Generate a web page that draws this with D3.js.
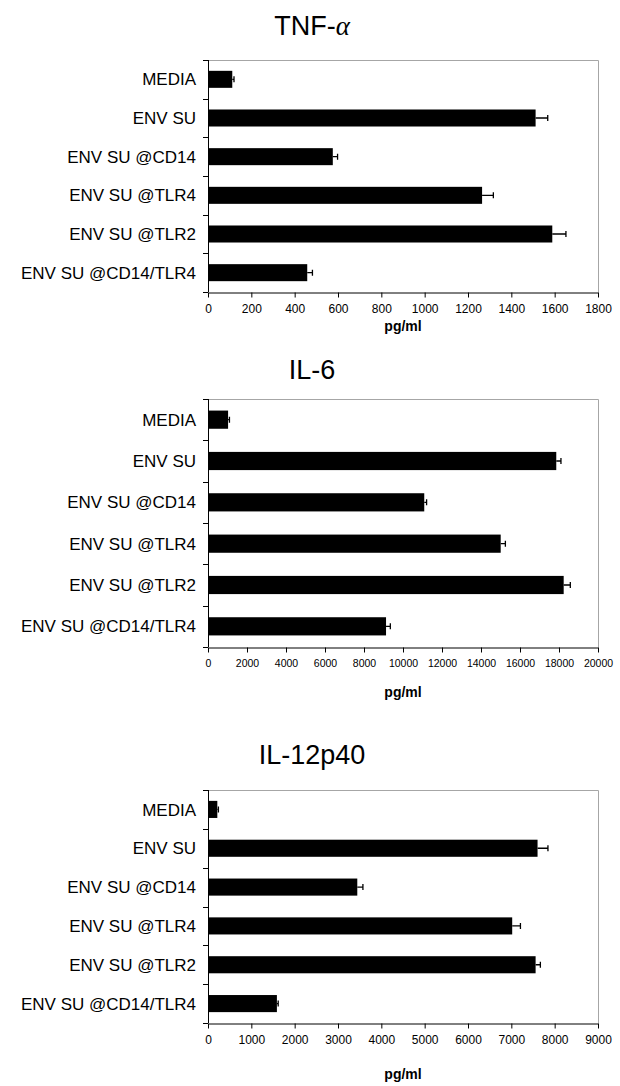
<!DOCTYPE html>
<html lang="en">
<head>
<meta charset="UTF-8">
<title>TNF-a / IL-6 / IL-12p40</title>
<script src="https://cdn.jsdelivr.net/npm/d3@7/dist/d3.min.js"></script>
<style>
  body { margin: 0; background: #fff; }
  svg text { font-family: "Liberation Sans", Arial, sans-serif; fill: #000; }
  .frame { fill: none; stroke: #a6a6a6; stroke-width: 1; }
  .bar { fill: #000; }
  .err { stroke: #000; stroke-width: 1.3; fill: none; }
  .axis path, .axis line { stroke: #000; stroke-width: 1; }
</style>
</head>
<body>
<svg></svg>
<script>
// categories (top to bottom)
var categories = ['MEDIA', 'ENV SU', 'ENV SU @CD14', 'ENV SU @TLR4', 'ENV SU @TLR2', 'ENV SU @CD14/TLR4']

// TNF-alpha
var tnfValues = [112, 1512, 576, 1265, 1589, 458]
var tnfErrors = [8, 56, 22, 52, 63, 24]
var tnfTicks = [0, 200, 400, 600, 800, 1000, 1200, 1400, 1600, 1800]

// IL-6
var il6Values = [1030, 17860, 11090, 15010, 18240, 9130]
var il6Errors = [70, 240, 120, 240, 340, 220]
var il6Ticks = [0, 2000, 4000, 6000, 8000, 10000, 12000, 14000, 16000, 18000, 20000]

// IL-12p40
var il12Values = [215, 7605, 3445, 7020, 7560, 1590]
var il12Errors = [25, 240, 130, 190, 110, 30]
var il12Ticks = [0, 1000, 2000, 3000, 4000, 5000, 6000, 7000, 8000, 9000]

var xLabel = 'pg/ml'

var svg = d3.select('svg').attr('width', 620).attr('height', 1086)

// plot box left/right is shared by all three panels
var left = 208, right = 598

var panels = [
    {title: 'TNF-', greek: 'α', values: tnfValues, errors: tnfErrors, ticks: tnfTicks,
     top: 60, bottom: 292, titleY: 35, tickSize: 12, labelY: 331},
    {title: 'IL-6', values: il6Values, errors: il6Errors, ticks: il6Ticks,
     top: 399, bottom: 647, titleY: 379, tickSize: 10.5, labelY: 697},
    {title: 'IL-12p40', values: il12Values, errors: il12Errors, ticks: il12Ticks,
     top: 790, bottom: 1023, titleY: 764, tickSize: 12, labelY: 1079}
]

panels.forEach(function (p) {
    var g = svg.append('g')

    var x = d3.scaleLinear()
        .domain([0, p.ticks[p.ticks.length - 1]])
        .range([left, right])
    var y = d3.scaleBand()
        .domain(categories)
        .range([p.top, p.bottom])
        .paddingInner(0.56)
        .paddingOuter(0.28)

    // title
    var t = g.append('text')
        .attr('x', 312)
        .attr('y', p.titleY)
        .attr('text-anchor', 'middle')
        .style('font-size', '27px')
        .text(p.title)
    if (p.greek) {
        t.append('tspan')
            .style('font-family', '"Liberation Serif", serif')
            .style('font-style', 'italic')
            .text(p.greek)
    }

    // gray frame (top + right)
    g.append('path')
        .attr('class', 'frame')
        .attr('d', 'M' + left + ',' + (p.top + 0.5) + 'H' + (right + 0.5) + 'V' + p.bottom)

    // bars
    g.selectAll('.bar')
        .data(p.values)
        .enter()
        .append('rect')
        .attr('class', 'bar')
        .attr('x', x(0))
        .attr('y', (d, i) => y(categories[i]))
        .attr('width', d => x(d) - x(0))
        .attr('height', y.bandwidth())

    // error bars (positive side only)
    var cap = 3
    g.selectAll('.err')
        .data(p.values)
        .enter()
        .append('path')
        .attr('class', 'err')
        .attr('d', function (d, i) {
            var cy = y(categories[i]) + y.bandwidth() / 2
            var x1 = x(d), x2 = x(d + p.errors[i])
            return 'M' + x1 + ',' + cy + 'H' + x2 + 'M' + x2 + ',' + (cy - cap) + 'V' + (cy + cap)
        })

    // left axis: ticks at band boundaries
    var bounds = d3.range(categories.length + 1).map(i => p.top + i * (p.bottom - p.top) / categories.length)
    var ga = g.append('g').attr('class', 'axis')
    ga.append('line')
        .attr('x1', left + 0.5).attr('x2', left + 0.5)
        .attr('y1', p.top).attr('y2', p.bottom)
    ga.selectAll('.ytick')
        .data(bounds)
        .enter()
        .append('line')
        .attr('x1', left - 5).attr('x2', left)
        .attr('y1', d => Math.round(d) + 0.5).attr('y2', d => Math.round(d) + 0.5)

    // category labels
    g.selectAll('.cat')
        .data(categories)
        .enter()
        .append('text')
        .attr('x', 196)
        .attr('y', d => y(d) + y.bandwidth() / 2)
        .attr('dy', '0.36em')
        .attr('text-anchor', 'end')
        .style('font-size', '17px')
        .text(d => d)

    // bottom axis
    var xAxis = d3.axisBottom(x)
        .tickValues(p.ticks)
        .tickSize(5)
        .tickSizeOuter(0)
        .tickPadding(7)
        .tickFormat(d3.format('d'))
    var gx = g.append('g')
        .attr('class', 'axis')
        .attr('transform', 'translate(0,' + (p.bottom + 0.5) + ')')
        .call(xAxis)
    gx.selectAll('text')
        .style('font-family', '"Liberation Sans", Arial, sans-serif')
        .style('font-size', p.tickSize + 'px')
        .attr('fill', '#000')

    // axis title
    g.append('text')
        .attr('x', 403)
        .attr('y', p.labelY)
        .attr('text-anchor', 'middle')
        .style('font-size', '14px')
        .style('font-weight', 'bold')
        .text(xLabel)
})
</script>
</body>
</html>
